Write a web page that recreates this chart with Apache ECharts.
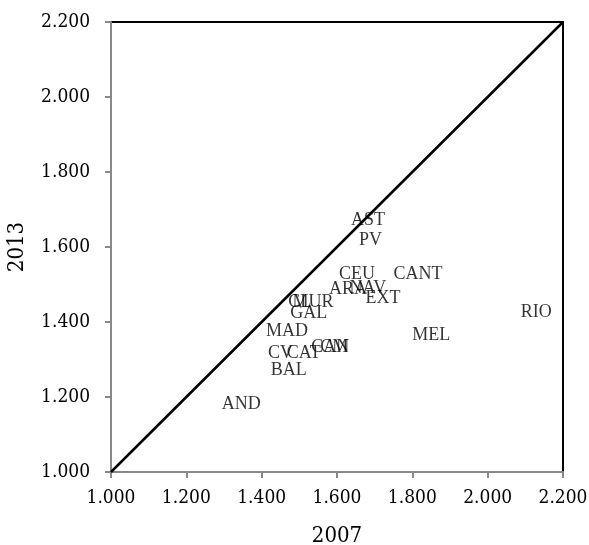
<!DOCTYPE html>
<html><head><meta charset="utf-8">
<script src="https://cdn.jsdelivr.net/npm/echarts@6/dist/echarts.min.js"></script>
<style>html,body{margin:0;padding:0;background:#fff}#c{width:589px;height:545px}</style>
</head><body><div id="c"></div>
<script>
const regions = ["AST","PV","CEU","CANT","ARA","NAV","EXT","CL","MUR","GAL","MAD","MEL","RIO","CV","CAT","CAN","CM","BAL","AND"];
const v2007 =  [1.682,1.689,1.653,1.815,1.629,1.682,1.722,1.501,1.536,1.525,1.467,1.850,2.129,1.450,1.512,1.582,1.593,1.472,1.346];
const v2013 =  [1.672,1.617,1.527,1.527,1.486,1.489,1.462,1.453,1.453,1.422,1.376,1.365,1.427,1.316,1.316,1.332,1.332,1.271,1.181];
const diagX = [1.0, 2.2];
const diagY = [1.0, 2.2];
const axisMin = 1.0, axisMax = 2.2, axisStep = 0.2;
const font = "'Liberation Serif','DejaVu Serif',serif";
const tickFont = "'DejaVu Serif Condensed','Liberation Serif',serif";

const chart = echarts.init(document.getElementById('c'));
function axis(name, gap, margin){
  return {
    type:'value', min:axisMin, max:axisMax, interval:axisStep,
    name:name, nameLocation:'middle', nameGap:gap,
    nameTextStyle:{color:'#000', fontFamily:tickFont, fontSize:22},
    axisLine:{show:true, lineStyle:{color:'#888', width:2}},
    axisTick:{show:true, inside:false, length:6, lineStyle:{color:'#888', width:2}},
    splitLine:{show:false},
    axisLabel:{color:'#000', fontFamily:tickFont, fontSize:19, margin:margin, formatter:v=>v.toFixed(3)}
  };
}
chart.setOption({
  animation:false,
  grid:{left:111, top:22, right:26, bottom:73, show:true, borderColor:'#000', borderWidth:2,
        containLabel:false, outerBoundsMode:'none'},
  xAxis:axis('2007', 53, 17),
  yAxis:axis('2013', 83, 21),
  series:[
    {type:'line', data:diagX.map((x,i)=>[x,diagY[i]]), symbol:'none', lineStyle:{color:'#000', width:2.5}, z:3},
    {type:'scatter', data:regions.map((r,i)=>[v2007[i], v2013[i], r]), symbolSize:0,
     label:{show:true, position:'inside', formatter:p=>p.data[2], color:'#000', fontFamily:font, fontSize:18}, z:4}
  ]
});
</script></body></html>
